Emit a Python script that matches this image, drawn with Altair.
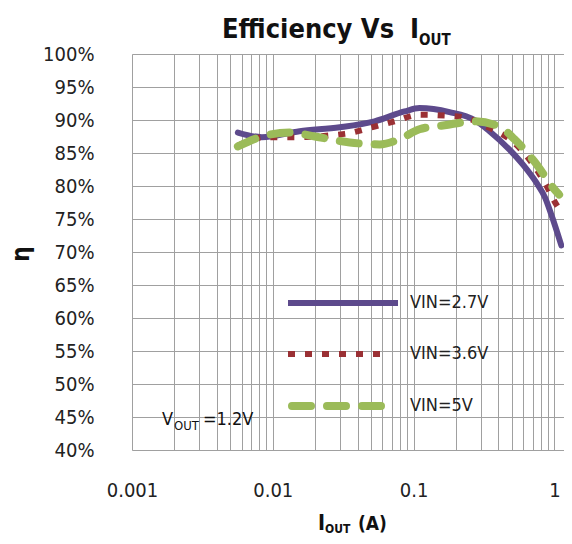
import altair as alt
import pandas as pd

# ---- data ----
i_27 = [0.00565, 0.00836, 0.0155, 0.0299, 0.0528, 0.0863, 0.110, 0.180, 0.271, 0.346, 0.480, 0.600, 0.745, 0.860, 0.953, 1.12]
e_27 = [88.1, 87.4, 88.3, 88.9, 89.8, 91.3, 91.8, 91.2, 90.0, 88.3, 85.5, 83.2, 80.5, 78.2, 75.6, 71.0]

i_36 = [0.00565, 0.00877, 0.0137, 0.0324, 0.0528, 0.0733, 0.110, 0.212, 0.346, 0.520, 0.784, 0.891, 1.0, 1.14]
e_36 = [86.1, 87.4, 87.4, 87.9, 89.0, 89.8, 90.8, 90.5, 88.8, 86.5, 81.8, 79.8, 77.7, 75.8]

i_5 = [0.00565, 0.00836, 0.0132, 0.0199, 0.0352, 0.0574, 0.0796, 0.110, 0.166, 0.271, 0.407, 0.520, 0.721, 1.0, 1.08]
e_5 = [86.0, 87.5, 88.1, 87.5, 86.6, 86.3, 87.1, 88.6, 89.2, 89.8, 89.0, 87.1, 83.7, 79.5, 78.7]

series_names = ["VIN=2.7V", "VIN=3.6V", "VIN=5V"]
series_colors = ["#5d4a8c", "#9a3034", "#9bbb59"]

x_ticks = [m * 10.0 ** k for k in (-3, -2, -1) for m in range(1, 10)] + [1.0]
y_ticks = list(range(40, 101, 5))

rows = []
for name, xs, ys in zip(series_names, [i_27, i_36, i_5], [e_27, e_36, e_5]):
    for xv, yv in zip(xs, ys):
        rows.append({"series": name, "current": xv, "eff": yv})
df = pd.DataFrame(rows)
one = pd.DataFrame({"k": [0]})

FONT = "DejaVu Sans Condensed, Roboto, sans-serif"
W, H = 432, 396

xenc = alt.X(
    "current:Q",
    scale=alt.Scale(type="log", domain=[0.001, 1.17], nice=False),
    axis=alt.Axis(
        values=x_ticks,
        format=".3~f",
        labelExpr="abs(log(datum.value)/LN10 - round(log(datum.value)/LN10)) < 1e-6 ? datum.label : ''",
        grid=True, gridColor="#a0a0a0", gridWidth=1,
        ticks=False, domain=False,
        labelFont=FONT, labelFontSize=20, labelColor="#222",
        labelPadding=30, labelFlush=False, labelOverlap=False,
        title=None,
    ),
)
yenc = alt.Y(
    "eff:Q",
    scale=alt.Scale(domain=[40, 100], nice=False),
    axis=alt.Axis(
        values=y_ticks,
        labelExpr="datum.value + '%'",
        grid=True, gridColor="#a0a0a0", gridWidth=1,
        ticks=False, domain=False,
        labelFont=FONT, labelFontSize=20, labelColor="#222",
        labelPadding=38,
        title=None,
    ),
)

base = alt.Chart(df).encode(x=xenc, y=yenc)

l27 = base.transform_filter(alt.datum.series == series_names[0]).mark_line(
    color=series_colors[0], strokeWidth=6, interpolate="monotone", strokeCap="round")
l36 = base.transform_filter(alt.datum.series == series_names[1]).mark_line(
    color=series_colors[1], strokeWidth=6, interpolate="monotone", strokeDash=[7, 10])
l5 = base.transform_filter(alt.datum.series == series_names[2]).mark_line(
    color=series_colors[2], strokeWidth=8, interpolate="monotone", strokeDash=[19, 16], strokeCap="round")

# ---- manual legend ----
leg_y = [249, 300, 352]
leg = []
dashes = [None, [7, 10], [19, 16]]
widths = [6, 6, 8]
caps = ["butt", "butt", "round"]
for nm, col, yy, dsh, wd, cp in zip(series_names, series_colors, leg_y, dashes, widths, caps):
    kw = dict(color=col, strokeWidth=wd, strokeCap=cp)
    if dsh:
        kw["strokeDash"] = dsh
    leg.append(alt.Chart(one).mark_rule(**kw).encode(
        x=alt.value(160 if cp == "round" else 156), x2=alt.value(266 if dsh is None else 254),
        y=alt.value(yy)))
    leg.append(alt.Chart(one).mark_text(
        text=nm, font=FONT, fontSize=18, color="#222", align="left", baseline="middle"
    ).encode(x=alt.value(278), y=alt.value(yy)))


def txt(s, x, y, size, bold=False, align="left", angle=0, baseline="alphabetic"):
    kw = dict(text=s, font=FONT, fontSize=size, color="#111", align=align, baseline=baseline)
    if bold:
        kw["fontWeight"] = "bold"
    if angle:
        kw["angle"] = angle
    return alt.Chart(one).mark_text(**kw).encode(x=alt.value(x), y=alt.value(y))


annots = [
    # title
    txt("Efficiency Vs", 90, -16, 27, bold=True),
    txt("I", 278, -16, 27, bold=True),
    txt("OUT", 287, -9, 15, bold=True),
    # x-axis title
    txt("I", 186, 476, 21, bold=True),
    txt("OUT", 193, 479, 12, bold=True),
    txt("(A)", 226, 476, 19, bold=True),
    # y-axis title
    txt("η", -110, 200, 24, bold=True, align="center", angle=270, baseline="middle"),
    # V_OUT annotation
    txt("V", 30, 371, 18),
    txt("OUT", 42, 376, 13),
    txt("=1.2V", 71, 371, 18),
]

chart = alt.layer(l27, l36, l5, *leg, *annots).properties(
    width=W, height=H,
    autosize=alt.AutoSizeParams(type="none"),
    padding={"left": 124, "top": 46, "right": 0, "bottom": 86},
).configure_view(stroke="#8a8a8a", strokeWidth=1).configure(background="white")

chart.save("out.html", embed_options={"renderer": "svg", "actions": False})
